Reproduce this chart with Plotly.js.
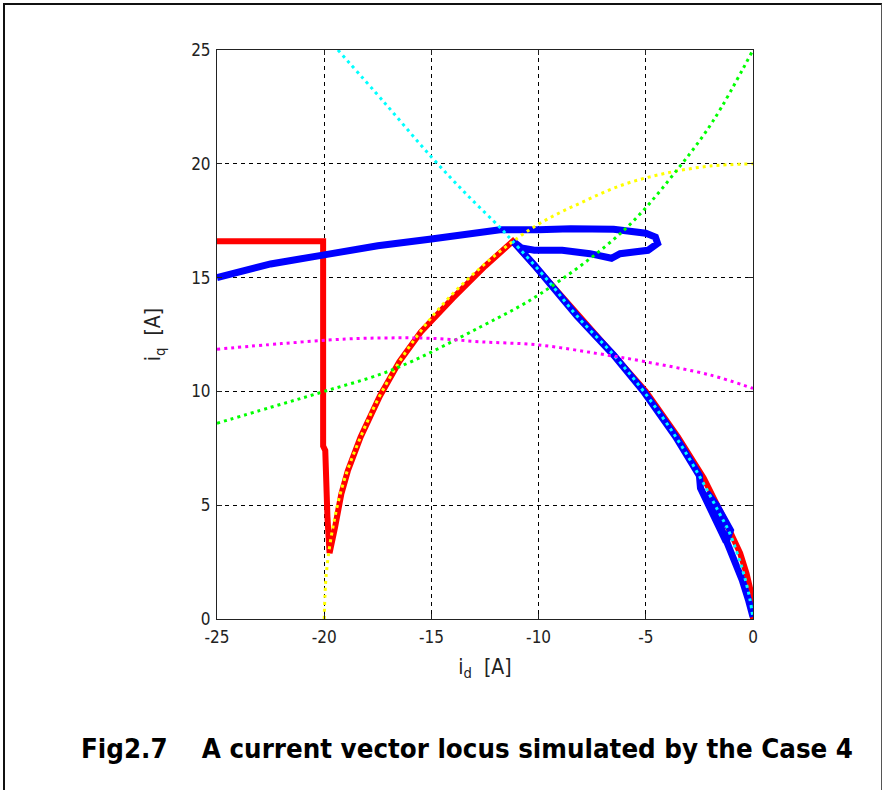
<!DOCTYPE html>
<html>
<head>
<meta charset="utf-8">
<script src="https://cdn.plot.ly/plotly-3.0.1.min.js"></script>
<style>
  html, body { margin: 0; padding: 0; background: #fff; }
  #plot { position: absolute; left: 0; top: 0; width: 882px; height: 790px; }
  #frame { position: absolute; left: 3px; top: 3px; width: 876px; height: 800px;
           border-left: 2px solid #111; border-top: 2px solid #111; border-right: 1px solid #555;
           pointer-events: none; z-index: 10; }
</style>
</head>
<body>
<div id="plot"></div>
<div id="frame"></div>
<script>
// Reference-limit curves
const cyanX = [-19.36, -17.2, -15.0, -13.3, -11.8, -11.26, -9.5, -8.2, -6.5, -5.1, -3.6, -2.45, -1.6, -1.1, -0.5, -0.15, 0];
const cyanY = [25.0, 22.7, 20.3, 18.6, 17.2, 16.65, 14.8, 13.3, 11.6, 10.0, 8.0, 6.2, 4.7, 3.8, 2.2, 0.9, 0.0];

const yellowX = [-20, -19.9, -19.6, -19.1, -18.3, -17.3, -16.0, -14.3, -12.0, -10.0, -8.0, -6.0, -4.0, -2.0, 0];
const yellowY = [0, 2.0, 4.0, 6.0, 8.0, 10.0, 12.0, 14.0, 16.0, 17.35, 18.3, 19.1, 19.6, 19.9, 20.0];

const greenX = [-25, -22.5, -20, -16.85, -12.7, -9.9, -6.0, -3.4, -1.85, 0];
const greenY = [8.6, 9.3, 10.0, 10.94, 12.84, 14.3, 17.1, 19.9, 21.9, 25.0];

const magentaX = [-25, -22, -19, -17, -15, -12.7, -10, -7.3, -5, -2, 0];
const magentaY = [11.85, 12.1, 12.3, 12.35, 12.33, 12.18, 12.04, 11.67, 11.3, 10.72, 10.13];

// Current command locus (red) and simulated current locus (blue)
const redX = [-25, -20.05, -20.05, -19.95, -19.85, -19.75, -19.5, -19.2, -18.9, -18.3, -17.4, -16.5, -15.5, -14.0, -12.5, -11.2,
              -9.5, -8.0, -6.5, -5.0, -3.5, -2.3, -1.3, -0.6, -0.3, -0.05, 0];
const redY = [16.6, 16.6, 7.6, 7.4, 4.5, 2.9, 4.0, 5.5, 6.5, 8.0, 9.8, 11.3, 12.6, 14.1, 15.5, 16.6,
              14.8, 13.2, 11.6, 10.0, 8.0, 6.2, 4.3, 2.9, 2.0, 1.0, 0];

const blueX = [-25, -22.5, -20, -17.5, -15, -12.7, -11.8, -10, -8.5, -6.5, -5.0, -4.55, -4.45, -4.9, -5.5, -6.2, -6.6, -7.6, -8.9, -10.2, -10.8, -11.2,
               -10.2, -9.5, -8.2, -6.5, -5.1, -3.6, -2.5, -2.45, -1.8, -1.25, -1.05, -1.7, -2.15, -1.5, -0.9, -0.5, -0.2, 0];
const blueY = [15.0, 15.6, 16.0, 16.4, 16.7, 17.0, 17.1, 17.1, 17.15, 17.12, 16.95, 16.78, 16.5, 16.2, 16.1, 16.05, 15.85, 16.05, 16.2, 16.2, 16.3, 16.6,
               15.55, 14.8, 13.3, 11.6, 10.0, 8.0, 6.3, 5.75, 4.5, 3.4, 3.9, 5.0, 5.55, 4.1, 2.7, 1.7, 0.8, 0.1];

const xTicks = [-25, -20, -15, -10, -5, 0];
const yTicks = [0, 5, 10, 15, 20, 25];

const fontList = 'DejaVu Sans Condensed, Liberation Sans Narrow, DejaVu Sans, sans-serif';
const dotDash = '3px,4px';
const traces = [
  {x: redX, y: redY, mode: 'lines', line: {color: '#ff0000', width: 6}, hoverinfo: 'skip'},
  {x: blueX, y: blueY, mode: 'lines', line: {color: '#0000ff', width: 7}, hoverinfo: 'skip'},
  {x: yellowX, y: yellowY, mode: 'lines', line: {color: '#ffff00', width: 3, dash: dotDash, shape: 'spline'}, hoverinfo: 'skip'},
  {x: cyanX, y: cyanY, mode: 'lines', line: {color: '#00ffff', width: 3, dash: dotDash, shape: 'spline'}, hoverinfo: 'skip'},
  {x: greenX, y: greenY, mode: 'lines', line: {color: '#00ff00', width: 3, dash: dotDash, shape: 'spline'}, hoverinfo: 'skip'},
  {x: magentaX, y: magentaY, mode: 'lines', line: {color: '#ff00ff', width: 3, dash: dotDash, shape: 'spline'}, hoverinfo: 'skip'}
];

const tickFont = {family: fontList, size: 17, color: '#222'};
const axisCommon = {
  showline: true, mirror: 'ticks', linecolor: '#222', linewidth: 1,
  ticks: 'inside', ticklen: 5, tickcolor: '#222', tickwidth: 1,
  showgrid: true, gridcolor: '#000', gridwidth: 1, griddash: '4px,4px',
  zeroline: false, tickfont: tickFont, fixedrange: true
};

const layout = {
  width: 882, height: 790,
  margin: {l: 217, r: 129, t: 50, b: 171},
  paper_bgcolor: '#fff', plot_bgcolor: '#fff',
  showlegend: false,
  xaxis: Object.assign({}, axisCommon, {
    range: [-25, 0], tickvals: xTicks, ticktext: xTicks.map(String), ticklabelstandoff: 3,
    title: {text: 'i<sub>d</sub>  [A]', font: {family: fontList, size: 21, color: '#222'}, standoff: 12}
  }),
  yaxis: Object.assign({}, axisCommon, {
    range: [0, 25], tickvals: yTicks, ticktext: yTicks.map(String), ticklabelstandoff: 2,
    title: {text: 'i<sub>q</sub>  [A]', font: {family: fontList, size: 21, color: '#222'}, standoff: 24}
  }),
  annotations: [{
    xref: 'paper', yref: 'paper', x: 0.466, y: -0.228, xanchor: 'center', yanchor: 'middle',
    showarrow: false,
    text: '<b>Fig2.7\u00A0\u00A0\u00A0\u00A0A current vector locus simulated by the Case 4</b>',
    font: {family: fontList, size: 27.4, color: '#000'}
  }]
};

Plotly.newPlot('plot', traces, layout, {staticPlot: true, displayModeBar: false});
</script>
</body>
</html>
